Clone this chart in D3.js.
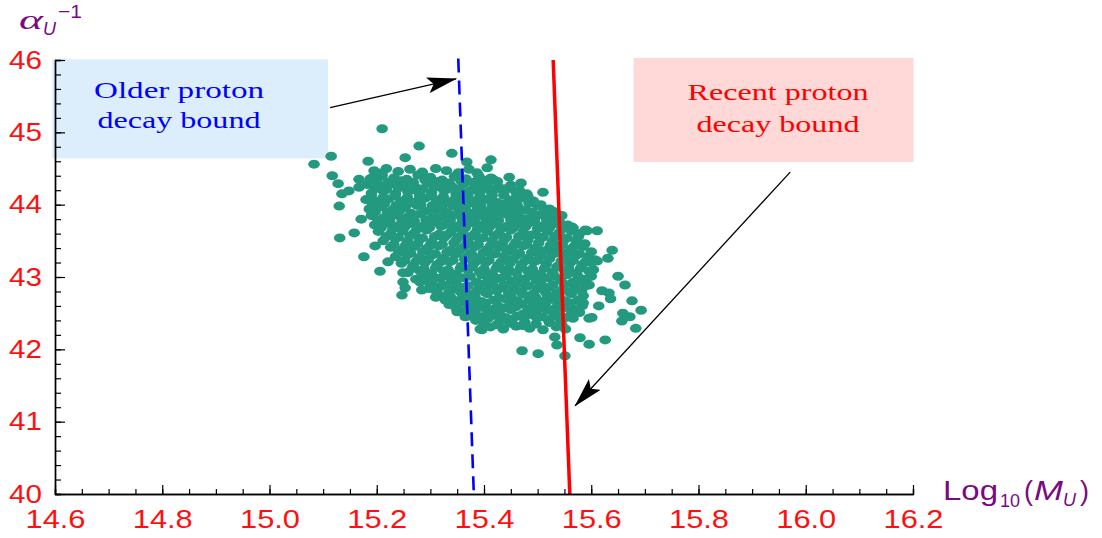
<!DOCTYPE html>
<html>
<head>
<meta charset="utf-8">
<script src="https://cdn.jsdelivr.net/npm/d3@7"></script>
<style>
  body { margin: 0; background: #fff; }
  svg { display: block; }
</style>
</head>
<body>
<svg class="chart" width="1102" height="538"></svg>
<script>
    // axis ticks
    var xTicks = [14.6, 14.8, 15.0, 15.2, 15.4, 15.6, 15.8, 16.0, 16.2];
    var yTicks = [40, 41, 42, 43, 44, 45, 46];

    // proton decay bounds (Log10 M_U, alpha_U^-1)
    var olderBound = [[15.352, 46.02], [15.381, 40]];
    var recentBound = [[15.529, 46], [15.560, 40]];

    // scan points: scattered outer points
    var outerPoints = [
        [15.210, 45.05], [15.083, 44.56], [15.115, 44.67], [15.279, 44.81], [15.184, 44.60],
        [15.253, 44.65], [15.340, 44.71], [15.368, 44.59], [15.117, 44.40], [15.128, 44.29],
        [15.135, 44.15], [15.148, 44.19], [15.167, 44.35], [15.167, 44.24], [15.130, 43.98],
        [15.171, 43.80], [15.131, 43.54], [15.158, 43.61], [15.193, 44.38], [15.210, 44.44],
        [15.221, 44.31], [15.176, 43.28], [15.197, 43.43], [15.206, 43.08], [15.249, 43.06],
        [15.249, 42.93], [15.253, 42.85], [15.247, 42.75], [15.284, 42.82], [15.310, 42.72],
        [15.350, 42.52], [15.365, 42.45], [15.393, 42.28], [15.221, 43.21], [15.281, 42.93],
        [15.447, 44.38], [15.469, 44.30], [15.510, 44.17], [15.611, 43.64], [15.592, 43.64],
        [15.639, 43.37], [15.676, 42.67], [15.693, 42.54], [15.683, 42.29], [15.659, 42.50],
        [15.657, 42.39], [15.626, 42.13], [15.596, 42.07], [15.579, 42.16], [15.532, 42.17],
        [15.536, 42.06], [15.551, 41.91], [15.501, 41.94], [15.471, 41.98], [15.396, 42.27],
        [15.631, 43.26], [15.650, 43.01], [15.663, 42.89], [15.611, 43.22], [15.633, 42.78],
        [15.614, 42.60], [15.585, 42.64], [15.601, 42.44], [15.672, 42.45], [15.620, 42.81],
        [15.636, 42.70], [15.596, 42.43], [15.413, 44.62], [15.406, 44.51], [15.387, 44.44],
        [15.417, 44.35], [15.387, 44.30], [15.445, 44.23], [15.411, 44.20], [15.589, 43.65],
        [15.564, 43.69], [15.529, 43.91]
    ];

    // scan points: dense core of the cloud
    var corePoints = [
        [15.195, 44.47], [15.218, 44.50], [15.240, 44.46], [15.262, 44.49], [15.285, 44.45], [15.310, 44.50], [15.330, 44.47], [15.352, 44.44], [15.372, 44.49],
        [15.188, 44.36], [15.210, 44.40], [15.232, 44.37], [15.256, 44.35], [15.277, 44.41], [15.300, 44.38], [15.322, 44.34], [15.345, 44.39], [15.366, 44.36], [15.390, 44.40], [15.413, 44.37],
        [15.182, 44.28], [15.205, 44.25], [15.228, 44.29], [15.250, 44.26], [15.272, 44.24], [15.295, 44.30], [15.318, 44.27], [15.340, 44.25], [15.362, 44.29], [15.384, 44.26], [15.406, 44.28], [15.428, 44.24], [15.450, 44.27],
        [15.190, 44.16], [15.212, 44.19], [15.235, 44.15], [15.258, 44.18], [15.280, 44.14], [15.302, 44.17], [15.325, 44.20], [15.348, 44.15], [15.370, 44.18], [15.392, 44.16], [15.415, 44.13], [15.438, 44.19], [15.460, 44.17], [15.480, 44.15],
        [15.180, 44.07], [15.200, 44.04], [15.222, 44.08], [15.245, 44.05], [15.268, 44.03], [15.290, 44.09], [15.312, 44.06], [15.335, 44.04], [15.358, 44.08], [15.380, 44.05], [15.402, 44.07], [15.425, 44.03], [15.448, 44.06], [15.470, 44.09], [15.492, 44.05],
        [15.186, 43.94], [15.208, 43.97], [15.230, 43.93], [15.253, 43.96], [15.275, 43.99], [15.298, 43.92], [15.320, 43.95], [15.343, 43.98], [15.365, 43.94], [15.388, 43.96], [15.410, 43.92], [15.433, 43.97], [15.455, 43.95], [15.478, 43.93], [15.500, 43.98], [15.522, 43.94],
        [15.190, 43.85], [15.213, 43.82], [15.236, 43.86], [15.258, 43.83], [15.280, 43.87], [15.303, 43.81], [15.326, 43.84], [15.348, 43.86], [15.370, 43.82], [15.393, 43.85], [15.416, 43.83], [15.438, 43.87], [15.460, 43.84], [15.483, 43.81], [15.506, 43.86], [15.528, 43.83], [15.545, 43.85],
        [15.196, 43.72], [15.218, 43.75], [15.240, 43.71], [15.263, 43.74], [15.286, 43.70], [15.308, 43.76], [15.330, 43.73], [15.353, 43.71], [15.376, 43.75], [15.398, 43.72], [15.420, 43.74], [15.443, 43.70], [15.466, 43.73], [15.488, 43.76], [15.510, 43.71], [15.533, 43.74], [15.556, 43.72],
        [15.203, 43.63], [15.226, 43.60], [15.248, 43.64], [15.270, 43.61], [15.293, 43.65], [15.316, 43.59], [15.338, 43.62], [15.360, 43.64], [15.383, 43.60], [15.406, 43.63], [15.428, 43.61], [15.450, 43.65], [15.473, 43.62], [15.496, 43.59], [15.518, 43.63], [15.540, 43.61], [15.563, 43.64], [15.578, 43.60],
        [15.212, 43.50], [15.235, 43.53], [15.257, 43.49], [15.280, 43.52], [15.302, 43.48], [15.325, 43.54], [15.348, 43.51], [15.370, 43.49], [15.392, 43.53], [15.415, 43.50], [15.438, 43.52], [15.460, 43.48], [15.482, 43.51], [15.505, 43.54], [15.528, 43.49], [15.550, 43.52], [15.572, 43.50],
        [15.226, 43.41], [15.248, 43.38], [15.270, 43.42], [15.293, 43.39], [15.316, 43.43], [15.338, 43.37], [15.360, 43.40], [15.383, 43.42], [15.406, 43.38], [15.428, 43.41], [15.450, 43.39], [15.473, 43.43], [15.496, 43.40], [15.518, 43.37], [15.540, 43.41], [15.563, 43.39], [15.585, 43.42],
        [15.235, 43.28], [15.258, 43.31], [15.280, 43.27], [15.302, 43.30], [15.325, 43.26], [15.348, 43.32], [15.370, 43.29], [15.392, 43.27], [15.415, 43.31], [15.438, 43.28], [15.460, 43.30], [15.482, 43.26], [15.505, 43.29], [15.528, 43.32], [15.550, 43.27], [15.572, 43.30], [15.594, 43.28],
        [15.246, 43.19], [15.268, 43.16], [15.290, 43.20], [15.313, 43.17], [15.336, 43.21], [15.358, 43.15], [15.380, 43.18], [15.403, 43.20], [15.426, 43.16], [15.448, 43.19], [15.470, 43.17], [15.493, 43.21], [15.516, 43.18], [15.538, 43.15], [15.560, 43.19], [15.583, 43.17], [15.600, 43.20],
        [15.258, 43.06], [15.280, 43.09], [15.302, 43.05], [15.325, 43.08], [15.348, 43.04], [15.370, 43.10], [15.392, 43.07], [15.415, 43.05], [15.438, 43.09], [15.460, 43.06], [15.482, 43.08], [15.505, 43.04], [15.528, 43.07], [15.550, 43.10], [15.572, 43.05], [15.596, 43.08],
        [15.273, 42.97], [15.296, 42.94], [15.318, 42.98], [15.340, 42.95], [15.363, 42.99], [15.386, 42.93], [15.408, 42.96], [15.430, 42.98], [15.453, 42.94], [15.476, 42.97], [15.498, 42.95], [15.520, 42.99], [15.543, 42.96], [15.566, 42.93], [15.590, 42.97],
        [15.297, 42.84], [15.320, 42.87], [15.342, 42.83], [15.365, 42.86], [15.388, 42.82], [15.410, 42.88], [15.432, 42.85], [15.455, 42.83], [15.478, 42.87], [15.500, 42.84], [15.522, 42.86], [15.545, 42.82], [15.568, 42.85], [15.590, 42.88],
        [15.315, 42.75], [15.338, 42.72], [15.360, 42.76], [15.383, 42.73], [15.406, 42.77], [15.428, 42.71], [15.450, 42.74], [15.473, 42.76], [15.496, 42.72], [15.518, 42.75], [15.540, 42.73], [15.563, 42.77], [15.585, 42.74],
        [15.335, 42.62], [15.358, 42.65], [15.380, 42.61], [15.403, 42.64], [15.426, 42.60], [15.448, 42.66], [15.470, 42.63], [15.493, 42.61], [15.516, 42.65], [15.538, 42.62], [15.560, 42.64], [15.583, 42.60],
        [15.360, 42.53], [15.383, 42.50], [15.406, 42.54], [15.428, 42.51], [15.450, 42.55], [15.473, 42.49], [15.496, 42.52], [15.518, 42.54], [15.540, 42.50], [15.563, 42.53], [15.578, 42.51],
        [15.385, 42.40], [15.408, 42.43], [15.430, 42.39], [15.453, 42.42], [15.476, 42.38], [15.498, 42.44], [15.520, 42.41], [15.543, 42.39], [15.566, 42.43],
        [15.412, 42.31], [15.436, 42.28], [15.460, 42.32], [15.485, 42.29], [15.510, 42.27], [15.535, 42.31], [15.552, 42.28]
    ];

    // scan points: filling between the core rows
    var fillPoints = [
        [15.200, 44.32], [15.222, 44.30], [15.245, 44.33], [15.268, 44.31], [15.290, 44.34], [15.312, 44.32], [15.335, 44.30], [15.357, 44.33], [15.380, 44.31], [15.400, 44.34], [15.425, 44.32],
        [15.196, 44.22], [15.218, 44.21], [15.240, 44.23], [15.263, 44.20], [15.286, 44.22], [15.308, 44.24], [15.330, 44.21], [15.353, 44.22], [15.376, 44.20], [15.398, 44.23], [15.420, 44.21], [15.443, 44.22], [15.466, 44.20],
        [15.190, 44.11], [15.212, 44.10], [15.234, 44.12], [15.257, 44.10], [15.280, 44.09], [15.302, 44.12], [15.324, 44.11], [15.347, 44.09], [15.370, 44.12], [15.392, 44.10], [15.414, 44.11], [15.437, 44.13], [15.460, 44.10], [15.482, 44.11],
        [15.192, 44.00], [15.214, 44.01], [15.236, 43.99], [15.259, 44.02], [15.282, 44.00], [15.304, 43.99], [15.326, 44.01], [15.349, 44.00], [15.372, 44.02], [15.394, 43.99], [15.416, 44.00], [15.439, 44.01], [15.462, 43.99], [15.484, 44.02], [15.506, 44.00],
        [15.197, 43.90], [15.220, 43.89], [15.242, 43.91], [15.264, 43.88], [15.287, 43.90], [15.310, 43.92], [15.332, 43.89], [15.354, 43.90], [15.377, 43.88], [15.400, 43.91], [15.422, 43.89], [15.444, 43.90], [15.467, 43.92], [15.490, 43.89], [15.512, 43.90], [15.534, 43.88],
        [15.202, 43.79], [15.224, 43.78], [15.247, 43.80], [15.270, 43.77], [15.292, 43.79], [15.314, 43.81], [15.337, 43.78], [15.360, 43.79], [15.382, 43.77], [15.404, 43.80], [15.427, 43.78], [15.450, 43.79], [15.472, 43.81], [15.494, 43.78], [15.517, 43.79], [15.540, 43.77],
        [15.208, 43.68], [15.230, 43.67], [15.252, 43.69], [15.275, 43.66], [15.298, 43.68], [15.320, 43.70], [15.342, 43.67], [15.365, 43.68], [15.388, 43.66], [15.410, 43.69], [15.432, 43.67], [15.455, 43.68], [15.478, 43.70], [15.500, 43.67], [15.522, 43.68], [15.545, 43.66], [15.566, 43.68],
        [15.218, 43.56], [15.240, 43.55], [15.262, 43.57], [15.285, 43.54], [15.308, 43.56], [15.330, 43.58], [15.352, 43.55], [15.375, 43.56], [15.398, 43.54], [15.420, 43.57], [15.442, 43.55], [15.465, 43.56], [15.488, 43.58], [15.510, 43.55], [15.532, 43.56], [15.555, 43.54], [15.576, 43.56],
        [15.232, 43.45], [15.254, 43.44], [15.276, 43.46], [15.299, 43.43], [15.322, 43.45], [15.344, 43.47], [15.366, 43.44], [15.389, 43.45], [15.412, 43.43], [15.434, 43.46], [15.456, 43.44], [15.479, 43.45], [15.502, 43.47], [15.524, 43.44], [15.546, 43.45], [15.569, 43.43], [15.588, 43.46],
        [15.241, 43.34], [15.263, 43.33], [15.286, 43.35], [15.309, 43.32], [15.331, 43.34], [15.353, 43.36], [15.376, 43.33], [15.399, 43.34], [15.421, 43.32], [15.443, 43.35], [15.466, 43.33], [15.489, 43.34], [15.511, 43.36], [15.533, 43.33], [15.556, 43.34], [15.578, 43.32], [15.600, 43.35],
        [15.252, 43.23], [15.274, 43.22], [15.296, 43.24], [15.319, 43.21], [15.342, 43.23], [15.364, 43.25], [15.386, 43.22], [15.409, 43.23], [15.432, 43.21], [15.454, 43.24], [15.476, 43.22], [15.499, 43.23], [15.522, 43.25], [15.544, 43.22], [15.566, 43.23], [15.589, 43.21], [15.607, 43.24],
        [15.266, 43.12], [15.288, 43.11], [15.310, 43.13], [15.333, 43.10], [15.356, 43.12], [15.378, 43.14], [15.400, 43.11], [15.423, 43.12], [15.446, 43.10], [15.468, 43.13], [15.490, 43.11], [15.513, 43.12], [15.536, 43.14], [15.558, 43.11], [15.580, 43.12], [15.604, 43.10],
        [15.284, 43.01], [15.306, 43.00], [15.328, 43.02], [15.351, 42.99], [15.374, 43.01], [15.396, 43.03], [15.418, 43.00], [15.441, 43.01], [15.464, 42.99], [15.486, 43.02], [15.508, 43.00], [15.531, 43.01], [15.554, 43.03], [15.576, 43.00], [15.600, 43.01],
        [15.303, 42.90], [15.326, 42.89], [15.348, 42.91], [15.370, 42.88], [15.393, 42.90], [15.416, 42.92], [15.438, 42.89], [15.460, 42.90], [15.483, 42.88], [15.506, 42.91], [15.528, 42.89], [15.550, 42.90], [15.573, 42.92], [15.596, 42.89],
        [15.312, 42.79], [15.334, 42.78], [15.356, 42.80], [15.379, 42.77], [15.402, 42.79], [15.424, 42.81], [15.446, 42.78], [15.469, 42.79], [15.492, 42.77], [15.514, 42.80], [15.536, 42.78], [15.559, 42.79], [15.582, 42.81],
        [15.328, 42.68], [15.350, 42.67], [15.372, 42.69], [15.395, 42.66], [15.418, 42.68], [15.440, 42.70], [15.462, 42.67], [15.485, 42.68], [15.508, 42.66], [15.530, 42.69], [15.552, 42.67], [15.575, 42.68],
        [15.348, 42.57], [15.370, 42.56], [15.392, 42.58], [15.415, 42.55], [15.438, 42.57], [15.460, 42.59], [15.482, 42.56], [15.505, 42.57], [15.528, 42.55], [15.550, 42.58], [15.570, 42.56],
        [15.372, 42.46], [15.395, 42.45], [15.418, 42.47], [15.440, 42.44], [15.462, 42.46], [15.485, 42.48], [15.508, 42.45], [15.530, 42.46], [15.552, 42.44],
        [15.400, 42.35], [15.424, 42.34], [15.448, 42.36], [15.472, 42.33], [15.497, 42.35], [15.522, 42.37], [15.545, 42.34]
    ];

    // annotation boxes and arrows, in data coordinates
    var olderBox = { x0: 14.595, x1: 15.109, y0: 46.01, y1: 44.64 };
    var recentBox = { x0: 15.679, x1: 16.201, y0: 46.03, y1: 44.59 };
    var olderArrow = [[15.113, 45.34], [15.348, 45.74]];
    var recentArrow = [[15.971, 44.45], [15.570, 41.22]];

    var svg = d3.select(".chart");

    var x = d3.scaleLinear().domain([14.6, 16.2]).range([55, 913]);
    var y = d3.scaleLinear().domain([40, 46]).range([494, 60]);

    var teal = "#239a7f";
    var red = "#ff1010";
    var purple = "#7a0a80";

    // arrow head
    svg.append("defs").append("marker")
        .attr("id", "head")
        .attr("viewBox", "0 0 30 16")
        .attr("refX", 29)
        .attr("refY", 8)
        .attr("markerWidth", 30)
        .attr("markerHeight", 16)
        .attr("markerUnits", "userSpaceOnUse")
        .attr("orient", "auto")
        .append("path")
        .attr("d", "M0,0 L30,8 L0,16 L6,8 Z")
        .attr("fill", "#000");

    // label boxes
    function box(b, fill) {
        svg.append("rect")
            .attr("x", x(b.x0))
            .attr("y", y(b.y0))
            .attr("width", x(b.x1) - x(b.x0))
            .attr("height", y(b.y1) - y(b.y0))
            .attr("fill", fill);
    }
    box(olderBox, "#dcedfb");
    box(recentBox, "#ffd8d8");

    function boxText(cx, lines, color) {
        lines.forEach(function (l) {
            svg.append("text")
                .attr("x", cx)
                .attr("y", l.y)
                .attr("text-anchor", "middle")
                .attr("font-family", "'Liberation Serif', 'Times New Roman', serif")
                .attr("font-size", 24)
                .attr("fill", color)
                .attr("textLength", l.len)
                .attr("lengthAdjust", "spacingAndGlyphs")
                .text(l.t);
        });
    }
    boxText(179, [{ t: "Older  proton", y: 98, len: 170 }, { t: "decay bound", y: 128, len: 163 }], "#0000ff");
    boxText(778, [{ t: "Recent proton", y: 100, len: 181 }, { t: "decay bound", y: 132, len: 163 }], "#ff0000");

    // scatter
    svg.append("g").selectAll("ellipse")
        .data(outerPoints.concat(corePoints, fillPoints))
        .enter()
        .append("ellipse")
        .attr("cx", function (d) { return x(d[0]); })
        .attr("cy", function (d) { return y(d[1]); })
        .attr("rx", 5.8)
        .attr("ry", 4.5)
        .attr("fill", teal);

    // bounds
    var line = d3.line()
        .x(function (d) { return x(d[0]); })
        .y(function (d) { return y(d[1]); });

    svg.append("path")
        .attr("d", line(olderBound))
        .attr("fill", "none")
        .attr("stroke", "#0000ff")
        .attr("stroke-width", 2.6)
        .attr("stroke-dasharray", "14,8");

    svg.append("path")
        .attr("d", line(recentBound))
        .attr("fill", "none")
        .attr("stroke", "#ff0000")
        .attr("stroke-width", 3.5);

    // arrows
    [olderArrow, recentArrow].forEach(function (a) {
        svg.append("path")
            .attr("d", line(a))
            .attr("fill", "none")
            .attr("stroke", "#000")
            .attr("stroke-width", 1.3)
            .attr("marker-end", "url(#head)");
    });

    // axes
    var minorX = d3.range(14.6, 16.2001, 0.05);
    var minorY = d3.range(40, 46.001, 0.2);

    function styleAxis(g) {
        g.select(".domain").attr("stroke", "#000").attr("stroke-width", 1.4);
        g.selectAll(".tick line").attr("stroke", "#000").attr("stroke-width", 1.2);
    }

    svg.append("g")
        .attr("transform", "translate(0,494)")
        .call(d3.axisBottom(x).tickValues(minorX).tickSize(-5).tickFormat(""))
        .call(styleAxis);

    svg.append("g")
        .attr("transform", "translate(55,0)")
        .call(d3.axisLeft(y).tickValues(minorY).tickSize(-6).tickFormat(""))
        .call(styleAxis);

    var xAxis = svg.append("g")
        .attr("transform", "translate(0,494)")
        .call(d3.axisBottom(x).tickValues(xTicks).tickSizeInner(-9).tickSizeOuter(0)
            .tickPadding(16).tickFormat(d3.format(".1f")))
        .call(styleAxis);
    xAxis.selectAll("text")
        .attr("font-family", "'Liberation Sans', Arial, sans-serif")
        .attr("font-size", 25)
        .attr("fill", red)
        .attr("textLength", 60)
        .attr("lengthAdjust", "spacingAndGlyphs");

    var yAxis = svg.append("g")
        .attr("transform", "translate(55,0)")
        .call(d3.axisLeft(y).tickValues(yTicks).tickSizeInner(-10).tickSizeOuter(0)
            .tickPadding(13).tickFormat(d3.format("d")))
        .call(styleAxis);
    yAxis.selectAll("text")
        .attr("font-family", "'Liberation Sans', Arial, sans-serif")
        .attr("font-size", 25)
        .attr("fill", red)
        .attr("textLength", 33)
        .attr("lengthAdjust", "spacingAndGlyphs");

    // y title: alpha_U^-1
    var yTitle = svg.append("g").attr("fill", purple);
    yTitle.append("text").attr("x", 19).attr("y", 29)
        .attr("font-family", "'Liberation Serif', serif").attr("font-style", "italic")
        .attr("font-size", 28).attr("textLength", 24).attr("lengthAdjust", "spacingAndGlyphs").text("α");
    yTitle.append("text").attr("x", 43).attr("y", 35)
        .attr("font-family", "'Liberation Sans', sans-serif").attr("font-style", "italic")
        .attr("font-size", 18).text("U");
    yTitle.append("text").attr("x", 58).attr("y", 18)
        .attr("font-family", "'Liberation Sans', sans-serif")
        .attr("font-size", 19).attr("textLength", 24).attr("lengthAdjust", "spacingAndGlyphs").text("−1");

    // x title: Log10(M_U)
    var xTitle = svg.append("g").attr("fill", purple)
        .attr("font-family", "'Liberation Sans', sans-serif");
    xTitle.append("text").attr("x", 943).attr("y", 500).attr("font-size", 27)
        .attr("textLength", 55).attr("lengthAdjust", "spacingAndGlyphs").text("Log");
    xTitle.append("text").attr("x", 1000).attr("y", 507).attr("font-size", 18)
        .attr("textLength", 20).attr("lengthAdjust", "spacingAndGlyphs").text("10");
    xTitle.append("text").attr("x", 1024).attr("y", 500).attr("font-size", 27).text("(");
    xTitle.append("text").attr("x", 1034).attr("y", 500).attr("font-size", 27)
        .attr("font-style", "italic").attr("textLength", 29).attr("lengthAdjust", "spacingAndGlyphs").text("M");
    xTitle.append("text").attr("x", 1063).attr("y", 506).attr("font-size", 18)
        .attr("font-style", "italic").text("U");
    xTitle.append("text").attr("x", 1080).attr("y", 500).attr("font-size", 27).text(")");
</script>
</body>
</html>
